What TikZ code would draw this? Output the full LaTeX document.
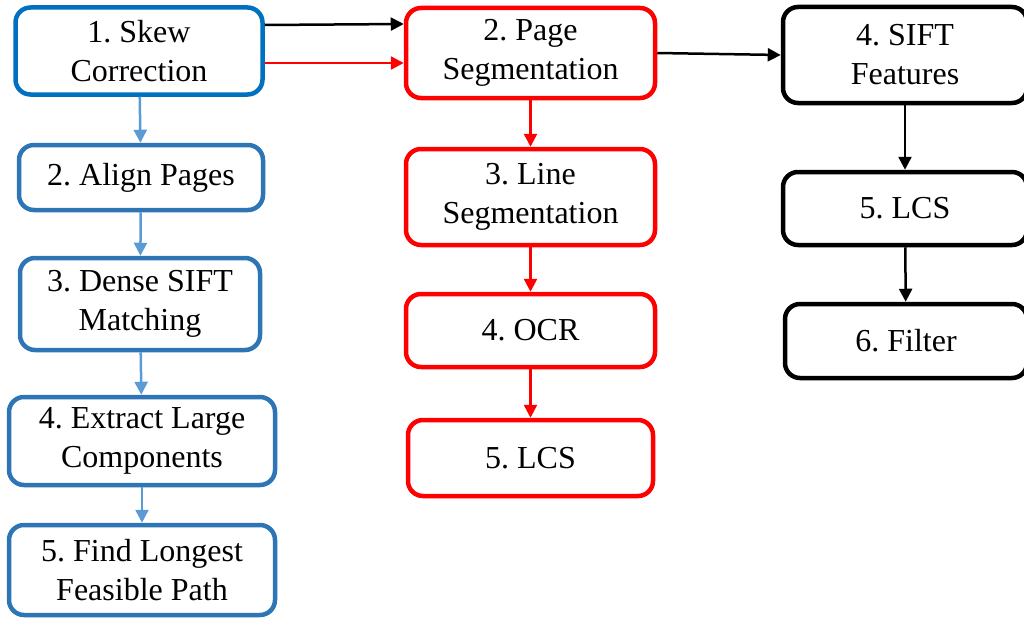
\documentclass[tikz,border=0pt]{standalone}
\usepackage{fontspec}
\setmainfont{Liberation Serif}
\frenchspacing
\usetikzlibrary{arrows.meta}
\definecolor{skewblue}{HTML}{0070C0}
\definecolor{boxblue}{HTML}{2E75B6}
\definecolor{arrowblue}{HTML}{5B9BD5}
\tikzset{
  stepbox/.style={draw,rounded corners=15pt,line width=4.5pt,align=center,
    inner sep=0pt,font=\fontsize{32}{39}\selectfont},
  bluebox/.style={stepbox,draw=boxblue},
  redbox/.style={stepbox,draw=red},
  blackbox/.style={stepbox,draw=black},
  flow/.style={-{Triangle[length=13pt,width=13pt]},line width=2.5pt}
}

\begin{document}
\begin{tikzpicture}[x=1pt,y=-1pt]
    \useasboundingbox (0,0) rectangle (1024,618);
    % left column
    \node[bluebox,draw=skewblue,minimum width=247pt,minimum height=87pt] (skew) at (139,51) {1. Skew\\Correction};
    \node[bluebox,minimum width=244pt,minimum height=65pt] (align) at (141,177.5) {2. Align Pages};
    \node[bluebox,minimum width=240pt,minimum height=92pt] (dense) at (140,304) {3. Dense SIFT\\Matching};
    \node[bluebox,minimum width=266pt,minimum height=88pt] (extract) at (142,441) {4. Extract Large\\Components};
    \node[bluebox,minimum width=266pt,minimum height=90pt] (longest) at (142,570) {5. Find Longest\\Feasible Path};
    % middle column
    \node[redbox,minimum width=249pt,minimum height=90pt] (pageseg) at (530.5,53) {2. Page\\Segmentation};
    \node[redbox,minimum width=249pt,minimum height=96pt] (lineseg) at (530.5,197) {3. Line\\Segmentation};
    \node[redbox,minimum width=249pt,minimum height=73pt] (ocr) at (530.5,330.5) {4. OCR};
    \node[redbox,minimum width=245pt,minimum height=76pt] (lcsred) at (530.5,458) {5. LCS};
    % right column
    \node[blackbox,minimum width=244pt,minimum height=96pt] (sift) at (905,55) {4. SIFT\\Features};
    \node[blackbox,minimum width=244pt,minimum height=73pt] (lcsblack) at (905,208.5) {5. LCS};
    \node[blackbox,minimum width=242pt,minimum height=74pt] (filter) at (906,341) {6. Filter};

    \draw[flow,arrowblue] (skew) -- (align);
    \draw[flow,arrowblue] (align) -- (dense);
    \draw[flow,arrowblue] (dense) -- (extract);
    \draw[flow,arrowblue] (extract) -- (longest);

    \draw[flow,red] (pageseg) -- (lineseg);
    \draw[flow,red] (lineseg) -- (ocr);
    \draw[flow,red] (ocr) -- (lcsred);

    \draw[flow] (sift) -- (lcsblack);
    \draw[flow] (lcsblack) -- (filter);

    \draw[flow] ([yshift=26pt]skew.east) -- ([yshift=29pt]pageseg.west);
    \draw[flow,red] ([yshift=-12pt]skew.east) -- ([yshift=-10pt]pageseg.west);
    \draw[flow] (pageseg.east) -- (sift.west);
  \end{tikzpicture}
\end{document}
